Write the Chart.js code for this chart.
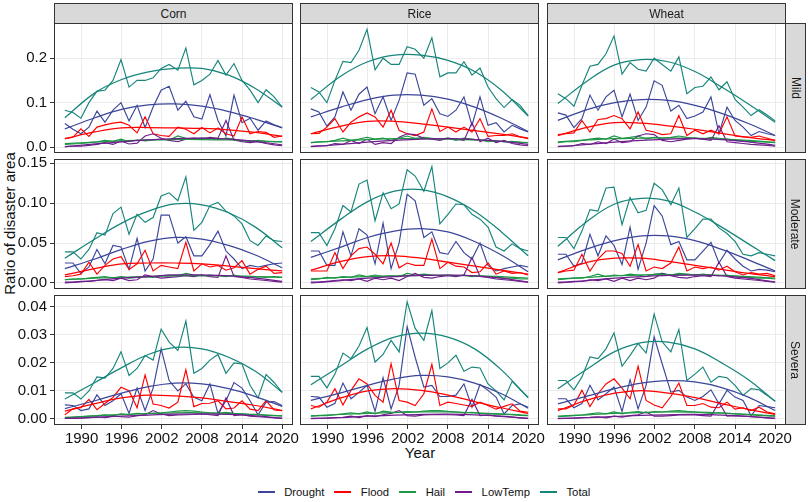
<!DOCTYPE html>
<html><head><meta charset="utf-8">
<script src="https://cdn.jsdelivr.net/npm/chart.js@4.4.1/dist/chart.umd.min.js"></script>
<style>
html,body{margin:0;padding:0;background:#fff;}
#root{position:relative;width:809px;height:502px;overflow:hidden;font-family:"Liberation Sans",Arial,sans-serif;color:#111;}
.box{position:absolute;}
.strip{position:absolute;background:#d9d9d9;border:1px solid #333;box-sizing:border-box;display:flex;align-items:center;justify-content:center;font-size:12px;color:#1a1a1a;}
.rot{transform:rotate(90deg);white-space:nowrap;}
#ytitle{position:absolute;left:-141px;top:215px;width:300px;text-align:center;font-size:15px;transform:rotate(-90deg);white-space:nowrap;}
#xtitle{position:absolute;left:320px;top:444px;width:200px;text-align:center;font-size:15px;}
#legend{position:absolute;left:0;top:486px;width:848px;display:flex;justify-content:center;align-items:center;font-size:11.3px;}
.item{display:flex;align-items:center;margin:0 5px;}
.key{display:inline-block;width:17px;height:1.3px;margin-right:9.5px;}
</style>
</head><body>
<div id="root">
<div id="ytitle">Ratio of disaster area</div>
<div id="xtitle">Year</div>
<div id="legend"></div>
</div>
<script>
// ---------- categories ----------
const crops = ['Corn', 'Rice', 'Wheat'];
const levels = ['Mild', 'Moderate', 'Severa'];
const hazards = ['Drought', 'Flood', 'Hail', 'LowTemp', 'Total'];
const hazardColors = ['#3B469A', '#FF0000', '#1E9645', '#6E1E8C', '#16857A'];

// x positions of the observations and of the fitted-curve samples
const years = [1987.5,1988.7,1989.9,1991.1,1992.3,1993.5,1994.7,1995.9,1997.1,1998.3,1999.5,2000.7,2001.9,2003.1,2004.4,2005.6,2006.8,2008.0,2009.2,2010.4,2011.6,2012.8,2014.0,2015.2,2016.4,2017.6,2018.8,2020.0];
const smoothYears = [1987.5,1992,1996,2000,2004,2008,2012,2016,2020];

// tick labels
const xTicks = [1990, 1996, 2002, 2008, 2014, 2020];
const yTicksMild = [0, 0.1, 0.2];
const yTickLabelsMild = ['0.0', '0.1', '0.2'];
const yTicksModerate = [0, 0.05, 0.10, 0.15];
const yTickLabelsModerate = ['0.00', '0.05', '0.10', '0.15'];
const yTicksSevere = [0, 0.01, 0.02, 0.03, 0.04];
const yTickLabelsSevere = ['0.00', '0.01', '0.02', '0.03', '0.04'];
const xRange = [1985.875, 2021.625];
const yRangeMild = [-0.0133, 0.2792];
const yRangeModerate = [-0.0076, 0.1554];
const yRangeSevere = [-0.00215, 0.0442];

// ---------- Corn ----------
const cornMildDrought = [0.053,0.040,0.030,0.045,0.081,0.056,0.083,0.100,0.059,0.094,0.044,0.090,0.128,0.137,0.083,0.103,0.068,0.063,0.118,0.060,0.025,0.117,0.055,0.065,0.038,0.059,0.050,0.044];
const cornMildFlood = [0.019,0.022,0.041,0.024,0.045,0.050,0.054,0.056,0.049,0.032,0.068,0.030,0.026,0.024,0.045,0.040,0.030,0.044,0.032,0.043,0.030,0.025,0.068,0.030,0.035,0.033,0.022,0.025];
const cornMildHail = [0.006,0.007,0.008,0.010,0.012,0.015,0.013,0.018,0.012,0.016,0.014,0.016,0.018,0.016,0.025,0.020,0.018,0.020,0.019,0.017,0.020,0.018,0.014,0.013,0.015,0.013,0.012,0.012];
const cornMildLowTemp = [0.001,0.002,0.002,0.004,0.006,0.010,0.006,0.014,0.007,0.009,0.025,0.030,0.020,0.015,0.012,0.018,0.020,0.018,0.022,0.020,0.060,0.016,0.012,0.010,0.012,0.008,0.005,0.003];
const cornMildTotal = [0.083,0.078,0.065,0.100,0.126,0.128,0.150,0.197,0.135,0.150,0.150,0.156,0.177,0.186,0.173,0.223,0.140,0.150,0.164,0.195,0.162,0.188,0.150,0.128,0.100,0.129,0.113,0.090];
const cornModerateDrought = [0.025,0.025,0.012,0.020,0.042,0.024,0.047,0.045,0.017,0.056,0.015,0.030,0.085,0.085,0.050,0.058,0.034,0.034,0.048,0.065,0.040,0.030,0.018,0.022,0.020,0.022,0.024,0.025];
const cornModerateFlood = [0.008,0.009,0.011,0.026,0.011,0.022,0.030,0.033,0.017,0.024,0.041,0.015,0.022,0.020,0.018,0.051,0.015,0.024,0.020,0.022,0.016,0.019,0.028,0.011,0.017,0.021,0.012,0.013];
const cornModerateHail = [0.004,0.005,0.005,0.006,0.007,0.008,0.006,0.008,0.006,0.007,0.008,0.007,0.009,0.010,0.009,0.012,0.010,0.009,0.010,0.009,0.008,0.010,0.008,0.007,0.008,0.007,0.008,0.007];
const cornModerateLowTemp = [0.001,0.001,0.002,0.002,0.003,0.004,0.003,0.006,0.003,0.004,0.010,0.008,0.006,0.007,0.008,0.009,0.008,0.010,0.008,0.007,0.034,0.008,0.007,0.005,0.004,0.003,0.002,0.001];
const cornModerateTotal = [0.039,0.039,0.030,0.042,0.063,0.060,0.087,0.095,0.061,0.086,0.076,0.082,0.109,0.113,0.103,0.133,0.066,0.076,0.097,0.101,0.090,0.084,0.074,0.053,0.047,0.059,0.053,0.052];
const cornSevereDrought = [0.0050,0.0048,0.0030,0.0036,0.0086,0.0048,0.0065,0.0090,0.0020,0.0110,0.0030,0.0110,0.0250,0.0137,0.0100,0.0125,0.0077,0.0065,0.0125,0.0020,0.0065,0.0130,0.0110,0.0065,0.0015,0.0060,0.0062,0.0048];
const cornSevereFlood = [0.0015,0.0036,0.0040,0.0070,0.0033,0.0055,0.0077,0.0113,0.0101,0.0040,0.0157,0.0053,0.0048,0.0039,0.0060,0.0175,0.0044,0.0055,0.0056,0.0065,0.0036,0.0039,0.0065,0.0035,0.0030,0.0065,0.0032,0.0030];
const cornSevereHail = [0.0005,0.0006,0.0008,0.0010,0.0012,0.0015,0.0012,0.0018,0.0015,0.0020,0.0018,0.0020,0.0022,0.0025,0.0028,0.0030,0.0028,0.0025,0.0022,0.0020,0.0024,0.0020,0.0018,0.0016,0.0015,0.0013,0.0012,0.0011];
const cornSevereLowTemp = [0.0002,0.0002,0.0003,0.0005,0.0008,0.0005,0.0010,0.0008,0.0006,0.0012,0.0015,0.0030,0.0018,0.0012,0.0014,0.0015,0.0016,0.0018,0.0015,0.0012,0.0075,0.0012,0.0015,0.0010,0.0008,0.0006,0.0004,0.0002];
const cornSevereTotal = [0.0093,0.0093,0.0071,0.0100,0.0150,0.0146,0.0180,0.0240,0.0155,0.0180,0.0226,0.0210,0.0320,0.0274,0.0244,0.0349,0.0163,0.0180,0.0210,0.0230,0.0163,0.0200,0.0196,0.0120,0.0075,0.0158,0.0130,0.0095];

// ---------- Rice ----------
const riceMildDrought = [0.086,0.079,0.047,0.068,0.124,0.083,0.119,0.135,0.075,0.113,0.060,0.105,0.167,0.164,0.094,0.109,0.075,0.069,0.083,0.113,0.049,0.113,0.049,0.055,0.034,0.049,0.041,0.034];
const riceMildFlood = [0.030,0.031,0.045,0.064,0.034,0.056,0.068,0.077,0.068,0.045,0.083,0.038,0.030,0.026,0.034,0.086,0.035,0.045,0.034,0.045,0.034,0.064,0.024,0.026,0.026,0.030,0.023,0.019];
const riceMildHail = [0.010,0.012,0.012,0.015,0.020,0.015,0.018,0.022,0.018,0.020,0.015,0.020,0.025,0.020,0.022,0.020,0.018,0.020,0.015,0.020,0.018,0.016,0.012,0.014,0.012,0.013,0.011,0.010];
const riceMildLowTemp = [0.002,0.003,0.003,0.008,0.006,0.015,0.008,0.018,0.006,0.010,0.008,0.022,0.030,0.028,0.020,0.018,0.015,0.020,0.018,0.015,0.055,0.012,0.020,0.010,0.015,0.008,0.005,0.003];
const riceMildTotal = [0.134,0.124,0.100,0.150,0.193,0.190,0.218,0.265,0.174,0.200,0.186,0.186,0.226,0.220,0.200,0.246,0.158,0.167,0.167,0.192,0.162,0.178,0.135,0.109,0.089,0.107,0.094,0.071];
const riceModerateDrought = [0.040,0.040,0.022,0.022,0.064,0.034,0.068,0.060,0.024,0.075,0.018,0.050,0.111,0.103,0.057,0.064,0.038,0.036,0.052,0.038,0.030,0.050,0.022,0.015,0.018,0.020,0.022,0.020];
const riceModerateFlood = [0.015,0.015,0.015,0.038,0.018,0.034,0.043,0.045,0.036,0.024,0.050,0.019,0.025,0.022,0.022,0.055,0.018,0.026,0.021,0.020,0.013,0.014,0.025,0.011,0.015,0.012,0.013,0.010];
const riceModerateHail = [0.004,0.005,0.007,0.006,0.008,0.007,0.010,0.008,0.010,0.008,0.009,0.008,0.012,0.010,0.011,0.010,0.009,0.010,0.009,0.010,0.008,0.009,0.008,0.007,0.006,0.006,0.005,0.005];
const riceModerateLowTemp = [0.001,0.001,0.002,0.003,0.004,0.003,0.005,0.002,0.006,0.004,0.006,0.003,0.008,0.012,0.007,0.006,0.008,0.009,0.008,0.010,0.032,0.008,0.007,0.005,0.004,0.003,0.002,0.001];
const riceModerateTotal = [0.063,0.063,0.047,0.068,0.097,0.089,0.124,0.129,0.078,0.113,0.093,0.099,0.142,0.134,0.115,0.146,0.074,0.086,0.099,0.098,0.086,0.080,0.070,0.045,0.040,0.049,0.043,0.040];
const riceSevereDrought = [0.0080,0.0078,0.0042,0.0056,0.0128,0.0072,0.0095,0.0120,0.0027,0.0147,0.0036,0.0120,0.0329,0.0220,0.0114,0.0120,0.0080,0.0080,0.0085,0.0125,0.0042,0.0123,0.0102,0.0078,0.0018,0.0048,0.0054,0.0042];
const riceSevereFlood = [0.0048,0.0042,0.0060,0.0108,0.0050,0.0102,0.0143,0.0125,0.0084,0.0060,0.0197,0.0066,0.0060,0.0048,0.0090,0.0195,0.0048,0.0060,0.0055,0.0050,0.0045,0.0060,0.0048,0.0035,0.0045,0.0054,0.0028,0.0024];
const riceSevereHail = [0.0010,0.0012,0.0012,0.0015,0.0018,0.0022,0.0018,0.0025,0.0018,0.0028,0.0025,0.0024,0.0026,0.0025,0.0028,0.0030,0.0030,0.0027,0.0025,0.0022,0.0024,0.0020,0.0018,0.0017,0.0016,0.0015,0.0013,0.0012];
const riceSevereLowTemp = [0.0002,0.0002,0.0003,0.0005,0.0006,0.0010,0.0005,0.0012,0.0008,0.0015,0.0020,0.0030,0.0012,0.0010,0.0014,0.0015,0.0016,0.0015,0.0014,0.0012,0.0070,0.0012,0.0014,0.0010,0.0008,0.0006,0.0004,0.0002];
const riceSevereTotal = [0.0152,0.0152,0.0111,0.0160,0.0235,0.0215,0.0260,0.0326,0.0203,0.0230,0.0280,0.0239,0.0418,0.0323,0.0280,0.0386,0.0180,0.0200,0.0227,0.0170,0.0185,0.0182,0.0125,0.0100,0.0068,0.0134,0.0105,0.0078];

// ---------- Wheat ----------
const wheatMildDrought = [0.077,0.072,0.044,0.064,0.117,0.083,0.113,0.128,0.068,0.119,0.060,0.090,0.149,0.139,0.081,0.094,0.064,0.070,0.079,0.113,0.030,0.090,0.060,0.045,0.026,0.035,0.030,0.026];
const wheatMildFlood = [0.028,0.030,0.032,0.060,0.034,0.062,0.064,0.071,0.064,0.041,0.079,0.038,0.034,0.028,0.030,0.071,0.026,0.038,0.030,0.038,0.030,0.068,0.025,0.023,0.022,0.025,0.020,0.015];
const wheatMildHail = [0.010,0.012,0.012,0.015,0.018,0.020,0.018,0.025,0.020,0.022,0.025,0.018,0.022,0.020,0.022,0.025,0.022,0.020,0.018,0.022,0.020,0.018,0.015,0.014,0.013,0.012,0.011,0.010];
const wheatMildLowTemp = [0.002,0.002,0.003,0.008,0.006,0.012,0.008,0.018,0.010,0.012,0.025,0.030,0.028,0.015,0.012,0.015,0.018,0.020,0.018,0.015,0.048,0.012,0.010,0.008,0.006,0.005,0.004,0.002];
const wheatMildTotal = [0.120,0.109,0.092,0.139,0.182,0.186,0.210,0.250,0.164,0.190,0.175,0.171,0.200,0.186,0.171,0.203,0.120,0.134,0.137,0.158,0.129,0.147,0.107,0.090,0.071,0.084,0.072,0.059];
const wheatModerateDrought = [0.036,0.036,0.021,0.025,0.061,0.034,0.059,0.047,0.023,0.070,0.017,0.050,0.097,0.084,0.048,0.052,0.029,0.029,0.040,0.051,0.025,0.041,0.030,0.021,0.015,0.017,0.016,0.014];
const wheatModerateFlood = [0.013,0.015,0.016,0.036,0.015,0.030,0.040,0.040,0.037,0.021,0.048,0.015,0.020,0.018,0.025,0.045,0.015,0.020,0.018,0.020,0.016,0.021,0.014,0.010,0.013,0.011,0.012,0.009];
const wheatModerateHail = [0.004,0.005,0.006,0.006,0.008,0.011,0.008,0.010,0.009,0.011,0.010,0.008,0.011,0.012,0.010,0.012,0.011,0.010,0.011,0.010,0.009,0.010,0.008,0.007,0.007,0.006,0.006,0.005];
const wheatModerateLowTemp = [0.001,0.001,0.002,0.002,0.004,0.003,0.005,0.002,0.006,0.003,0.006,0.004,0.006,0.012,0.009,0.007,0.006,0.008,0.009,0.008,0.026,0.008,0.006,0.005,0.004,0.003,0.002,0.001];
const wheatModerateTotal = [0.057,0.057,0.043,0.065,0.092,0.090,0.119,0.120,0.073,0.107,0.088,0.091,0.125,0.117,0.098,0.119,0.057,0.068,0.080,0.080,0.069,0.062,0.052,0.036,0.034,0.038,0.036,0.034];
const wheatSevereDrought = [0.0072,0.0072,0.0040,0.0055,0.0120,0.0068,0.0090,0.0114,0.0027,0.0140,0.0036,0.0120,0.0293,0.0197,0.0096,0.0102,0.0078,0.0066,0.0080,0.0104,0.0054,0.0102,0.0078,0.0066,0.0012,0.0048,0.0044,0.0040];
const wheatSevereFlood = [0.0036,0.0036,0.0050,0.0102,0.0044,0.0090,0.0125,0.0143,0.0110,0.0072,0.0188,0.0066,0.0050,0.0040,0.0080,0.0128,0.0048,0.0048,0.0055,0.0042,0.0040,0.0060,0.0035,0.0040,0.0030,0.0042,0.0025,0.0018];
const wheatSevereHail = [0.0008,0.0010,0.0012,0.0014,0.0018,0.0022,0.0018,0.0025,0.0018,0.0024,0.0026,0.0022,0.0026,0.0025,0.0028,0.0030,0.0027,0.0025,0.0022,0.0020,0.0022,0.0020,0.0018,0.0016,0.0014,0.0013,0.0011,0.0010];
const wheatSevereLowTemp = [0.0002,0.0002,0.0003,0.0005,0.0006,0.0008,0.0004,0.0010,0.0006,0.0012,0.0015,0.0025,0.0010,0.0010,0.0012,0.0014,0.0015,0.0014,0.0012,0.0010,0.0060,0.0010,0.0012,0.0010,0.0008,0.0006,0.0004,0.0002];
const wheatSevereTotal = [0.0137,0.0137,0.0104,0.0150,0.0221,0.0215,0.0250,0.0307,0.0188,0.0227,0.0269,0.0235,0.0374,0.0275,0.0239,0.0319,0.0137,0.0160,0.0185,0.0131,0.0152,0.0147,0.0120,0.0084,0.0108,0.0104,0.0084,0.0063];

// ---------- fitted trend curves (read at smoothYears) ----------
const cornMildDroughtFit = [0.041,0.066,0.085,0.095,0.097,0.092,0.080,0.063,0.043];
const cornMildFloodFit = [0.019,0.034,0.043,0.044,0.043,0.042,0.039,0.033,0.024];
const cornMildHailFit = [0.008,0.011,0.014,0.016,0.017,0.017,0.016,0.014,0.012];
const cornMildLowTempFit = [0.001,0.007,0.012,0.016,0.019,0.020,0.018,0.013,0.005];
const cornMildTotalFit = [0.066,0.122,0.152,0.169,0.177,0.177,0.162,0.132,0.090];
const cornModerateDroughtFit = [0.018,0.030,0.042,0.052,0.057,0.055,0.047,0.035,0.019];
const cornModerateFloodFit = [0.010,0.018,0.024,0.025,0.025,0.024,0.021,0.018,0.015];
const cornModerateHailFit = [0.004,0.006,0.007,0.008,0.009,0.009,0.009,0.008,0.007];
const cornModerateLowTempFit = [0.000,0.003,0.006,0.008,0.010,0.010,0.009,0.006,0.002];
const cornModerateTotalFit = [0.031,0.055,0.075,0.090,0.099,0.098,0.088,0.070,0.044];
const cornSevereDroughtFit = [0.0037,0.0065,0.0092,0.0115,0.0128,0.0125,0.0108,0.0080,0.0045];
const cornSevereFloodFit = [0.0028,0.0055,0.0075,0.0085,0.0082,0.0075,0.0062,0.0048,0.0030];
const cornSevereHailFit = [0.0006,0.0011,0.0016,0.0020,0.0022,0.0022,0.0020,0.0016,0.0011];
const cornSevereLowTempFit = [0.0002,0.0006,0.0010,0.0014,0.0017,0.0018,0.0016,0.0011,0.0003];
const cornSevereTotalFit = [0.0071,0.0130,0.0183,0.0230,0.0255,0.0250,0.0220,0.0170,0.0095];
const riceMildDroughtFit = [0.068,0.090,0.107,0.117,0.117,0.108,0.090,0.065,0.035];
const riceMildFloodFit = [0.030,0.047,0.058,0.058,0.052,0.045,0.037,0.029,0.020];
const riceMildHailFit = [0.010,0.014,0.017,0.019,0.019,0.018,0.016,0.013,0.010];
const riceMildLowTempFit = [0.001,0.006,0.011,0.015,0.018,0.019,0.017,0.013,0.006];
const riceMildTotalFit = [0.107,0.160,0.192,0.207,0.207,0.195,0.170,0.128,0.070];
const riceModerateDroughtFit = [0.032,0.045,0.057,0.065,0.068,0.064,0.052,0.035,0.014];
const riceModerateFloodFit = [0.016,0.027,0.033,0.034,0.031,0.026,0.021,0.016,0.011];
const riceModerateHailFit = [0.005,0.007,0.008,0.009,0.0095,0.0095,0.009,0.008,0.006];
const riceModerateLowTempFit = [0.000,0.003,0.006,0.008,0.0095,0.0098,0.009,0.006,0.001];
const riceModerateTotalFit = [0.052,0.080,0.102,0.115,0.117,0.108,0.090,0.064,0.034];
const riceSevereDroughtFit = [0.0066,0.0093,0.0120,0.0143,0.0155,0.0150,0.0128,0.0090,0.0038];
const riceSevereFloodFit = [0.0036,0.0075,0.0100,0.0108,0.0102,0.0085,0.0062,0.0040,0.0020];
const riceSevereHailFit = [0.0011,0.0016,0.0020,0.0023,0.0025,0.0025,0.0022,0.0018,0.0013];
const riceSevereLowTempFit = [0.0001,0.0005,0.0010,0.0014,0.0016,0.0017,0.0015,0.0010,0.0002];
const riceSevereTotalFit = [0.0122,0.0190,0.0250,0.0292,0.0306,0.0292,0.0250,0.0175,0.0075];
const wheatMildDroughtFit = [0.060,0.085,0.100,0.107,0.105,0.094,0.076,0.053,0.026];
const wheatMildFloodFit = [0.026,0.045,0.055,0.054,0.048,0.040,0.031,0.022,0.015];
const wheatMildHailFit = [0.012,0.016,0.019,0.020,0.021,0.020,0.018,0.015,0.011];
const wheatMildLowTempFit = [0.001,0.006,0.011,0.015,0.018,0.019,0.017,0.012,0.004];
const wheatMildTotalFit = [0.098,0.150,0.185,0.197,0.192,0.170,0.135,0.097,0.056];
const wheatModerateDroughtFit = [0.029,0.043,0.053,0.059,0.059,0.053,0.042,0.029,0.015];
const wheatModerateFloodFit = [0.013,0.026,0.031,0.031,0.027,0.022,0.017,0.012,0.008];
const wheatModerateHailFit = [0.005,0.007,0.009,0.010,0.0105,0.0105,0.0095,0.008,0.006];
const wheatModerateLowTempFit = [0.000,0.003,0.006,0.008,0.0095,0.0098,0.009,0.006,0.001];
const wheatModerateTotalFit = [0.046,0.078,0.099,0.106,0.103,0.089,0.070,0.049,0.028];
const wheatSevereDroughtFit = [0.0054,0.0082,0.0108,0.0128,0.0137,0.0132,0.0112,0.0078,0.0030];
const wheatSevereFloodFit = [0.0030,0.0068,0.0092,0.0101,0.0092,0.0076,0.0055,0.0034,0.0016];
const wheatSevereHailFit = [0.0010,0.0015,0.0020,0.0023,0.0025,0.0024,0.0021,0.0016,0.0011];
const wheatSevereLowTempFit = [0.0001,0.0005,0.0009,0.0013,0.0015,0.0016,0.0014,0.0009,0.0002];
const wheatSevereTotalFit = [0.0108,0.0180,0.0240,0.0272,0.0274,0.0250,0.0200,0.0140,0.0063];

// ---------- assemble ----------
const rawData = [
  [
    [cornMildDrought,cornMildFlood,cornMildHail,cornMildLowTemp,cornMildTotal],
    [riceMildDrought,riceMildFlood,riceMildHail,riceMildLowTemp,riceMildTotal],
    [wheatMildDrought,wheatMildFlood,wheatMildHail,wheatMildLowTemp,wheatMildTotal]
  ],
  [
    [cornModerateDrought,cornModerateFlood,cornModerateHail,cornModerateLowTemp,cornModerateTotal],
    [riceModerateDrought,riceModerateFlood,riceModerateHail,riceModerateLowTemp,riceModerateTotal],
    [wheatModerateDrought,wheatModerateFlood,wheatModerateHail,wheatModerateLowTemp,wheatModerateTotal]
  ],
  [
    [cornSevereDrought,cornSevereFlood,cornSevereHail,cornSevereLowTemp,cornSevereTotal],
    [riceSevereDrought,riceSevereFlood,riceSevereHail,riceSevereLowTemp,riceSevereTotal],
    [wheatSevereDrought,wheatSevereFlood,wheatSevereHail,wheatSevereLowTemp,wheatSevereTotal]
  ]
];
const fitData = [
  [
    [cornMildDroughtFit,cornMildFloodFit,cornMildHailFit,cornMildLowTempFit,cornMildTotalFit],
    [riceMildDroughtFit,riceMildFloodFit,riceMildHailFit,riceMildLowTempFit,riceMildTotalFit],
    [wheatMildDroughtFit,wheatMildFloodFit,wheatMildHailFit,wheatMildLowTempFit,wheatMildTotalFit]
  ],
  [
    [cornModerateDroughtFit,cornModerateFloodFit,cornModerateHailFit,cornModerateLowTempFit,cornModerateTotalFit],
    [riceModerateDroughtFit,riceModerateFloodFit,riceModerateHailFit,riceModerateLowTempFit,riceModerateTotalFit],
    [wheatModerateDroughtFit,wheatModerateFloodFit,wheatModerateHailFit,wheatModerateLowTempFit,wheatModerateTotalFit]
  ],
  [
    [cornSevereDroughtFit,cornSevereFloodFit,cornSevereHailFit,cornSevereLowTempFit,cornSevereTotalFit],
    [riceSevereDroughtFit,riceSevereFloodFit,riceSevereHailFit,riceSevereLowTempFit,riceSevereTotalFit],
    [wheatSevereDroughtFit,wheatSevereFloodFit,wheatSevereHailFit,wheatSevereLowTempFit,wheatSevereTotalFit]
  ]
];
const yTicksByRow = [yTicksMild, yTicksModerate, yTicksSevere];
const yLabelsByRow = [yTickLabelsMild, yTickLabelsModerate, yTickLabelsSevere];
const yRangeByRow = [yRangeMild, yRangeModerate, yRangeSevere];

// ---------- layout ----------
const FONT = '"Liberation Sans", Arial, sans-serif';
const PL = [54, 300, 547];
const PW = 239;
const PT = [23, 159, 295];
const PH = 130;
const PAD = 14;
const AXW = 50;
const AXH = 34;
const root = document.getElementById('root');

const borderPlugin = {
  id: 'panelBorder',
  afterDraw(chart) {
    const a = chart.chartArea, ctx = chart.ctx;
    ctx.save();
    ctx.strokeStyle = '#333333';
    ctx.lineWidth = 1;
    ctx.strokeRect(a.left + 0.5, a.top + 0.5, a.right - a.left - 1, a.bottom - a.top - 1);
    ctx.restore();
  }
};

function makePanel(r, c) {
  const showY = c === 0, showX = r === 2;
  const aw = showY ? AXW : 0, ah = showX ? AXH : 0;
  const box = document.createElement('div');
  box.className = 'box';
  box.style.left = (PL[c] - PAD - aw) + 'px';
  box.style.top = (PT[r] - PAD) + 'px';
  box.style.width = (PW + 2 * PAD + aw) + 'px';
  box.style.height = (PH + 2 * PAD + ah) + 'px';
  const cv = document.createElement('canvas');
  box.appendChild(cv);
  root.appendChild(box);

  const datasets = [];
  hazards.forEach((h, k) => {
    datasets.push({
      label: h, data: years.map((x, i) => ({x: x, y: rawData[r][c][k][i]})),
      borderColor: hazardColors[k], borderWidth: 1.15, pointRadius: 0, tension: 0, fill: false
    });
  });
  hazards.forEach((h, k) => {
    datasets.push({
      label: h + ' trend', data: smoothYears.map((x, i) => ({x: x, y: fitData[r][c][k][i]})),
      borderColor: hazardColors[k], borderWidth: 1.25, pointRadius: 0, tension: 0.4,
      cubicInterpolationMode: 'default', fill: false
    });
  });
  datasets.reverse(); // first dataset is drawn on top in Chart.js

  const yLabels = yLabelsByRow[r];
  new Chart(cv, {
    type: 'line',
    data: {datasets},
    plugins: [borderPlugin],
    options: {
      animation: false, responsive: true, maintainAspectRatio: false,
      layout: {padding: PAD},
      plugins: {legend: {display: false}, tooltip: {enabled: false}},
      events: [],
      scales: {
        x: {
          type: 'linear', min: xRange[0], max: xRange[1], bounds: 'data',
          afterBuildTicks: s => { s.ticks = xTicks.map(v => ({value: v})); },
          afterFit: s => { s.height = ah; },
          border: {display: false},
          grid: {color: '#ebebeb', lineWidth: 1, drawTicks: showX, tickLength: 4, tickColor: '#333333', tickWidth: 1},
          ticks: {display: showX, autoSkip: false, maxRotation: 0, padding: 1, color: '#111',
                  font: {family: FONT, size: 15}, callback: v => String(v)}
        },
        y: {
          type: 'linear', min: yRangeByRow[r][0], max: yRangeByRow[r][1], bounds: 'data',
          afterBuildTicks: s => { s.ticks = yTicksByRow[r].map(v => ({value: v})); },
          afterFit: s => { s.width = aw; },
          border: {display: false},
          grid: {color: '#ebebeb', lineWidth: 1, drawTicks: showY, tickLength: 4, tickColor: '#333333', tickWidth: 1},
          ticks: {display: showY, autoSkip: false, padding: 3, color: '#111',
                  font: {family: FONT, size: 15}, callback: (v, i) => yLabels[i]}
        }
      }
    }
  });
}

for (let r = 0; r < 3; r++) for (let c = 0; c < 3; c++) makePanel(r, c);

// strips
crops.forEach((name, c) => {
  const s = document.createElement('div');
  s.className = 'strip';
  s.style.left = PL[c] + 'px'; s.style.top = '3px';
  s.style.width = PW + 'px'; s.style.height = (PT[0] - 3 + 1) + 'px';
  s.textContent = name;
  root.appendChild(s);
});
levels.forEach((name, r) => {
  const s = document.createElement('div');
  s.className = 'strip';
  s.style.left = (PL[2] + PW - 1) + 'px'; s.style.top = PT[r] + 'px';
  s.style.width = '21px'; s.style.height = PH + 'px';
  const t = document.createElement('span');
  t.className = 'rot'; t.textContent = name;
  s.appendChild(t);
  root.appendChild(s);
});

// legend
const lg = document.getElementById('legend');
hazards.forEach((h, k) => {
  const it = document.createElement('div');
  it.className = 'item';
  const key = document.createElement('span');
  key.className = 'key'; key.style.background = hazardColors[k];
  const tx = document.createElement('span');
  tx.textContent = h;
  it.appendChild(key); it.appendChild(tx);
  lg.appendChild(it);
});
</script>
</body></html>
